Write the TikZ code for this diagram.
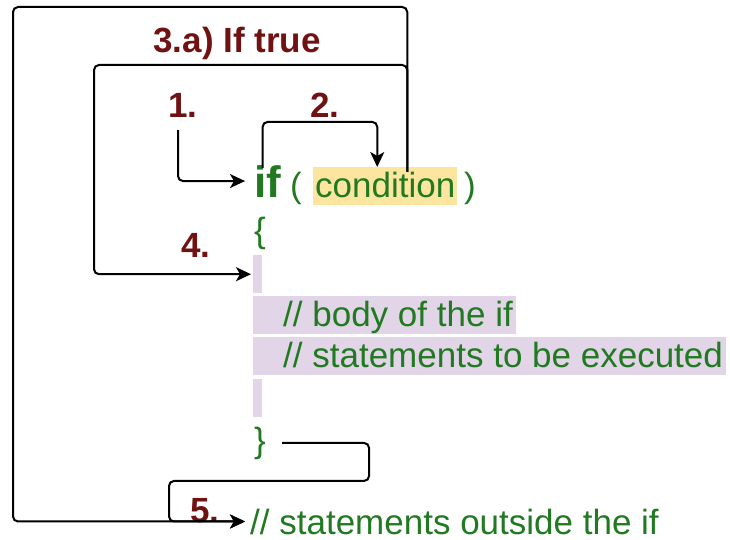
\documentclass[tikz,border=0pt]{standalone}
\usepackage{fontspec}
\setmainfont{Liberation Sans}
\usetikzlibrary{arrows.meta}
\definecolor{codegreen}{RGB}{33,122,33}
\definecolor{stepred}{RGB}{112,18,18}
\definecolor{condfill}{RGB}{252,229,158}
\definecolor{bodyfill}{RGB}{225,213,231}
\tikzstyle{codetext}=[inner sep=0, text=codegreen, font=\fontsize{35}{42}\selectfont]
\tikzstyle{steplabel}=[inner sep=0, anchor=base, text=stepred, font=\fontsize{35}{42}\selectfont\bfseries]
\tikzstyle{highlight}=[codetext, anchor=north west, inner xsep=3pt, text height=30pt, text depth=8pt]
\tikzstyle{gapbar}=[fill=bodyfill, inner sep=0, minimum width=9pt, minimum height=38pt, anchor=north west]
\tikzstyle{flow}=[draw=black, line width=2pt, rounded corners=5pt, -{Stealth[length=15pt,width=14pt,inset=4pt]}]

\begin{document}
\begin{tikzpicture}[x=1pt,y=-1pt]
  \useasboundingbox (0,0) rectangle (730,540);

  %% the code
  \draw (254,197) node[codetext, anchor=base west, font=\fontsize{44}{50}\selectfont\bfseries] (ifkw) {if};
  \draw (290,197) node[codetext, anchor=base west] (lparen) {(};
  \draw (313,167) node[highlight, fill=condfill, inner xsep=2pt] (cond) {condition};
  \draw (464,197) node[codetext, anchor=base west] (rparen) {)};
  \draw (254,242) node[codetext, anchor=base west] (lbrace) {\{};
  \draw (253,255) node[gapbar] (gapone) {};
  \draw (253,296) node[highlight, fill=bodyfill] (body) {\hspace*{27pt}// body of the if};
  \draw (253,337) node[highlight, fill=bodyfill] (stmts) {\hspace*{27pt}// statements to be executed};
  \draw (253,379) node[gapbar] (gaptwo) {};
  \draw (254,452) node[codetext, anchor=base west] (rbrace) {\}};
  \draw (250,534) node[codetext, anchor=base west] (outside) {// statements outside the if};

  %% step labels
  \draw (237,53) node[steplabel] (lblthree) {3.a) If true};
  \draw (183,118) node[steplabel] (lblone) {1.};
  \draw (325,118) node[steplabel] (lbltwo) {2.};
  \draw (196,257) node[steplabel] (lblfour) {4.};
  \draw (205,522) node[steplabel] (lblfive) {5.};

  \coordinate (tap) at ([xshift=22pt,yshift=-5pt]cond.north);

  \draw[flow] ([xshift=-5pt,yshift=-12pt]lblone.south) |- ([xshift=-9pt]ifkw.west);
  \draw[flow] ([xshift=-5pt,yshift=-3pt]ifkw.north) -- ++(0,-46) -| ([xshift=-8pt]cond.north);
  \draw[flow] (tap) -- ++(0,-107) -| ([xshift=-159pt]gapone.west) -- ([xshift=-2pt]gapone.west);
  \draw[flow] (tap) -- ++(0,-165) -| ([xshift=-237pt]outside.west) -- ([xshift=-5pt]outside.west);
  \draw[flow] ([xshift=16pt]rbrace.east) -| ++(87,38) -| ([xshift=-81pt]outside.west) -- ([xshift=-5pt]outside.west);
\end{tikzpicture}
\end{document}
